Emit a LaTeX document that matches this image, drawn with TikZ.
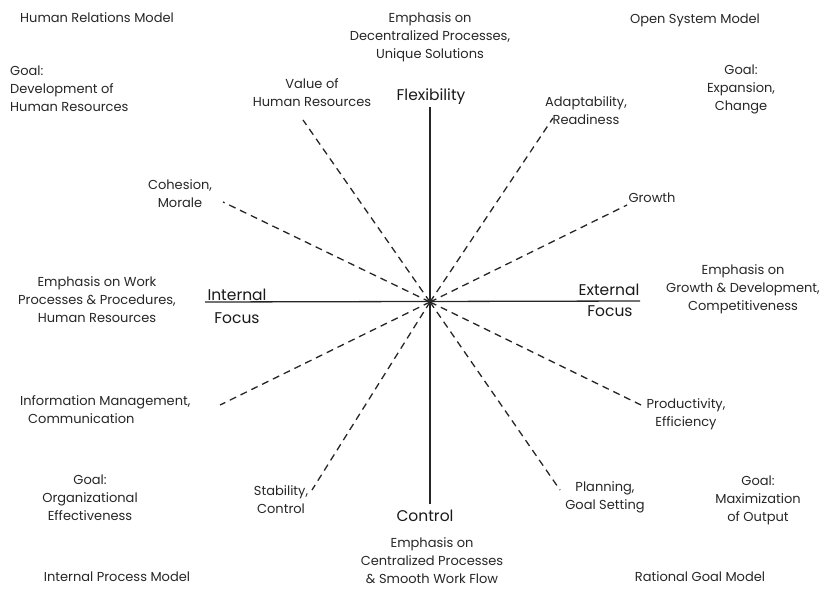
\documentclass[tikz,border=0pt]{standalone}
\usepackage{fontspec}
\setmainfont{Poppins}
\begin{document}
\begin{tikzpicture}[x=1pt,y=-1pt,
  lbl/.style={font=\fontsize{13}{18}\selectfont,align=center,inner sep=0pt,text=black!85},
  lbll/.style={lbl,align=left,anchor=west},
  axlbl/.style={font=\fontsize{15.5}{18}\selectfont,inner sep=0pt,text=black!90},
  axis/.style={line width=1.3pt,black!85},
  spoke/.style={line width=1.3pt,black!85,dash pattern=on 7pt off 5pt}]
\useasboundingbox (0,0) rectangle (829,589);
\coordinate (c) at (430,302);
% axes
\coordinate (atop) at (430,107);
\coordinate (abot) at (430,504);
\coordinate (aleft) at (205,302);
\coordinate (aright) at (640,301);
\draw[axis] (atop) -- (abot);
\draw[axis] (aleft) -- (aright);
% spoke ends
\coordinate (e1) at (303,120);
\coordinate (e2) at (553,118);
\coordinate (e3) at (223,202);
\coordinate (e4) at (627,205);
\coordinate (e5) at (220,405);
\coordinate (e6) at (641,405);
\coordinate (e7) at (312,490);
\coordinate (e8) at (560,490);
\foreach \e in {e1,e2,e3,e4,e5,e6,e7,e8}{\draw[spoke] (c) -- (\e);}
% axis labels
\node[axlbl] (flex) at (431,97) {Flexibility};
\node[axlbl] (ctrl) at (425,516) {Control};
\node[axlbl] (intl) at (237,295) {Internal};
\node[axlbl] (intf) at (237,318) {Focus};
\node[axlbl] (extl) at (609,290) {External};
\node[axlbl] (extf) at (610,311) {Focus};
% corner models
\node[lbl] (hrm) at (97,18) {Human Relations Model};
\node[lbl] (osm) at (695,20) {Open System Model};
\node[lbl] (ipm) at (117,577) {Internal Process Model};
\node[lbl] (rgm) at (700,577) {Rational Goal Model};
% goals
\node[lbll] (g1) at (10,89) {Goal:\\Development of\\Human Resources};
\node[lbl] (g2) at (741,89) {Goal:\\Expansion,\\Change};
\node[lbl] (g3) at (90,498) {Goal:\\Organizational\\Effectiveness};
\node[lbl] (g4) at (758,500) {Goal:\\Maximization\\of Output};
% emphasis
\node[lbl] (em1) at (430,37) {Emphasis on\\Decentralized Processes,\\Unique Solutions};
\node[lbl] (em2) at (97,300) {Emphasis on Work\\Processes \& Procedures,\\Human Resources};
\node[lbl] (em3) at (743,289) {Emphasis on\\Growth \& Development,\\Competitiveness};
\node[lbl] (em4) at (432,561) {Emphasis on\\Centralized Processes\\\& Smooth Work Flow};
% spoke labels
\node[lbl] (s1) at (312,93) {Value of\\Human Resources};
\node[lbl] (s2) at (586,111) {Adaptability,\\Readiness};
\node[lbl] (s3) at (180,194) {Cohesion,\\Morale};
\node[lbl] (s4) at (652,198) {Growth};
\node[lbll] (s5) at (20,410) {Information Management,\\\hspace*{8pt}Communication};
\node[lbl] (s6) at (686,414) {Productivity,\\Efficiency};
\node[lbl] (s7) at (281,500) {Stability,\\Control};
\node[lbl] (s8) at (605,497) {Planning,\\Goal Setting};
\end{tikzpicture}
\end{document}
